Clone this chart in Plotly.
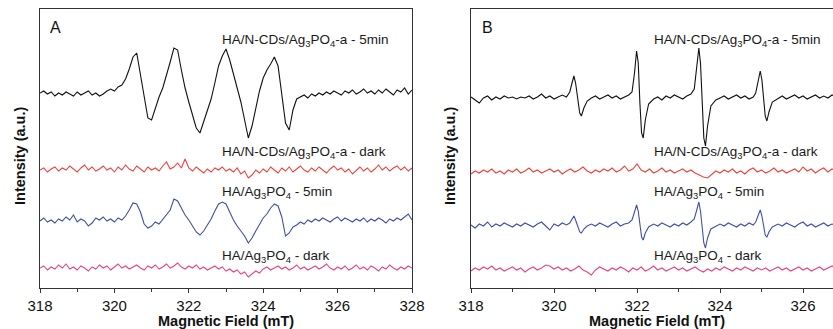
import numpy as np
import plotly.graph_objects as go

# ---------------- Panel A data (Magnetic field, mT) ----------------
field_A = np.round(np.arange(318.0, 328.0001, 0.1), 2)

A_cds_5min = [195, 197, 194, 196, 192, 195, 193, 196, 194, 192,
              196, 193, 195, 197, 193, 195, 192, 194, 197, 199,
              197, 201, 203, 209, 219, 231, 235, 214, 190, 170,
              168, 180, 191, 200, 212, 226, 240, 238, 218, 200,
              186, 172, 160, 155, 166, 178, 189, 205, 222, 232,
              239, 228, 214, 200, 186, 168, 150, 162, 181, 197,
              210, 218, 224, 231, 222, 195, 165, 158, 178, 189,
              191, 193, 190, 194, 192, 195, 193, 196, 194, 197,
              195, 193, 197, 195, 198, 194, 196, 199, 195, 197,
              194, 198, 195, 199, 196, 193, 198, 196, 200, 194, 198]

A_cds_dark = [118, 120, 116, 119, 121, 117, 120, 118, 122, 119,
              116, 120, 123, 118, 121, 117, 119, 122, 118, 120,
              116, 121, 118, 123, 119, 117, 122, 119, 116, 121,
              118, 120, 117, 122, 126, 119, 121, 125, 120, 129,
              120, 117, 121, 118, 115, 119, 116, 120, 118, 121,
              117, 119, 116, 120, 114, 117, 110, 113, 118, 115,
              119, 116, 121, 118, 115, 120, 117, 121, 116, 119,
              122, 118, 116, 120, 117, 121, 118, 115, 119, 122,
              118, 120, 116, 119, 114, 118, 121, 117, 120, 116,
              119, 123, 118, 121, 117, 120, 122, 118, 121, 117, 120]

A_ag_5min = [67, 70, 66, 68, 65, 69, 67, 71, 68, 73,
             66, 69, 67, 62, 65, 70, 68, 71, 67, 69,
             66, 70, 68, 72, 78, 85, 84, 76, 64, 60,
             62, 66, 64, 69, 73, 78, 89, 87, 80, 73,
             68, 62, 56, 53, 57, 63, 69, 77, 84, 86,
             84, 76, 68, 62, 57, 52, 45, 50, 57, 64,
             70, 74, 80, 84, 82, 71, 52, 55, 61, 63,
             66, 64, 68, 66, 69, 67, 70, 68, 66, 69,
             71, 67, 70, 68, 66, 69, 67, 70, 66, 69,
             67, 70, 68, 65, 69, 67, 70, 68, 71, 74, 68]

A_ag_dark = [20, 22, 18, 21, 19, 23, 20, 24, 19, 21,
             18, 22, 20, 17, 21, 19, 23, 20, 22, 18,
             21, 24, 20, 22, 19, 21, 23, 20, 18, 22,
             20, 23, 19, 21, 24, 20, 22, 25, 21, 19,
             22, 20, 23, 19, 21, 18, 20, 22, 19, 21,
             17, 19, 16, 18, 14, 16, 11, 14, 17, 15,
             19, 21, 18, 20, 22, 19, 21, 18, 20, 23,
             19, 21, 18, 20, 22, 19, 21, 24, 20, 18,
             21, 19, 22, 18, 20, 23, 19, 21, 18, 22,
             20, 17, 21, 19, 23, 20, 18, 21, 19, 22, 20]

# ---------------- Panel B data ----------------
field_B_dark = np.round(np.arange(318.0, 327.0001, 0.1), 2)

B_cds_dark = [114, 117, 115, 118, 116, 119, 115, 117, 114, 118,
              116, 119, 115, 117, 120, 116, 118, 115, 117, 119,
              116, 118, 114, 117, 119, 116, 118, 121, 117, 115,
              118, 116, 119, 117, 120, 116, 118, 122, 117, 119,
              124, 118, 116, 119, 115, 117, 120, 116, 118, 115,
              117, 119, 116, 118, 115, 113, 111, 110, 114, 117,
              115, 118, 116, 119, 115, 117, 114, 118, 120, 116,
              118, 115, 117, 120, 116, 118, 115, 117, 119, 116,
              121, 117, 119, 115, 118, 120, 116, 119, 117, 120, 118]

B_ag_dark = [17, 20, 18, 21, 19, 22, 18, 20, 17, 19,
             21, 18, 20, 16, 19, 21, 18, 20, 23, 22,
             19, 21, 18, 20, 17, 19, 22, 18, 16, 13,
             18, 21, 19, 17, 20, 18, 21, 19, 16, 20,
             18, 21, 17, 19, 22, 18, 20, 17, 19, 21,
             18, 20, 17, 19, 21, 18, 16, 19, 17, 20,
             18, 21, 19, 17, 20, 18, 21, 19, 17, 20,
             18, 20, 17, 19, 21, 18, 20, 17, 19, 21,
             18, 20, 17, 19, 21, 18, 20, 22, 19, 21, 20]

field_B_5min = [318.0, 318.1, 318.2, 318.3, 318.4, 318.5, 318.6, 318.7, 318.8, 318.9,
                319.0, 319.1, 319.2, 319.3, 319.4, 319.5, 319.6, 319.7, 319.8, 319.9,
                320.0, 320.1, 320.2, 320.3,
                320.38, 320.44, 320.48, 320.52, 320.57, 320.62, 320.66, 320.72, 320.8,
                320.9, 321.0, 321.1, 321.2, 321.3, 321.4, 321.5, 321.6, 321.7, 321.8,
                321.88, 321.94, 321.99, 322.03, 322.07, 322.11, 322.15, 322.2, 322.28,
                322.4, 322.5, 322.6, 322.7, 322.8, 322.9, 323.0, 323.1, 323.2, 323.3,
                323.38, 323.44, 323.49, 323.53, 323.57, 323.61, 323.65, 323.7, 323.78,
                323.9, 324.0, 324.1, 324.2, 324.3, 324.4, 324.5, 324.6, 324.7, 324.8,
                324.86, 324.92, 324.97, 325.01, 325.05, 325.09, 325.13, 325.18, 325.26,
                325.4, 325.5, 325.6, 325.7, 325.8, 325.9, 326.0, 326.1, 326.2, 326.3,
                326.4, 326.5, 326.6, 326.7, 326.8, 326.9, 327.0]

B_cds_5min = [191, 188, 185, 190, 192, 188, 191, 189, 192, 190,
              191, 189, 191, 190, 192, 189, 191, 194, 190, 192,
              189, 191, 193, 191,
              196, 206, 212, 205, 188, 175, 172, 180, 187,
              190, 192, 189, 191, 193, 190, 192, 189, 191, 193,
              196, 215, 237, 225, 185, 155, 150, 168, 184,
              189, 191, 188, 192, 190, 193, 191, 189, 192, 194,
              199, 220, 240, 225, 180, 150, 142, 162, 182,
              188, 190, 192, 189, 191, 193, 190, 192, 189, 191,
              195, 208, 217, 208, 188, 172, 167, 176, 186,
              190, 192, 189, 191, 193, 190, 192, 189, 191, 193,
              190, 192, 190, 193, 191, 192, 190]

B_ag_5min = [63, 60, 64, 62, 66, 61, 64, 62, 65, 63,
             61, 64, 62, 65, 63, 61, 64, 66, 62, 58,
             64, 62, 65, 63,
             65, 69, 72, 68, 61, 56, 55, 59, 62,
             64, 62, 65, 63, 61, 64, 66, 62, 64, 65,
             68, 76, 83, 77, 62, 51, 48, 55, 61,
             64, 62, 65, 63, 61, 64, 62, 65, 63, 66,
             69, 78, 86, 77, 58, 45, 40, 50, 59,
             62, 64, 62, 65, 63, 61, 64, 62, 65, 63,
             66, 73, 78, 72, 61, 53, 51, 56, 61,
             64, 62, 65, 63, 61, 64, 66, 62, 64, 61,
             63, 65, 62, 64, 63, 61, 64]

x_ticks = [318, 320, 322, 324, 326, 328]
labels_text = ["HA/N-CDs/Ag<sub>3</sub>PO<sub>4</sub>-a - 5min",
               "HA/N-CDs/Ag<sub>3</sub>PO<sub>4</sub>-a - dark",
               "HA/Ag<sub>3</sub>PO<sub>4</sub> - 5min",
               "HA/Ag<sub>3</sub>PO<sub>4</sub> - dark"]

C_BLACK = "#111111"
C_RED = "#f0413d"
C_BLUE = "#3f4fa6"
C_PINK = "#e9457c"

fig = go.Figure()
lw = 1.1
for xs, ys, c in [(field_A, A_cds_5min, C_BLACK), (field_A, A_cds_dark, C_RED),
                  (field_A, A_ag_5min, C_BLUE), (field_A, A_ag_dark, C_PINK)]:
    fig.add_trace(go.Scatter(x=xs, y=ys, mode="lines", line=dict(color=c, width=lw),
                             xaxis="x", yaxis="y", showlegend=False, hoverinfo="skip"))
for xs, ys, c in [(field_B_5min, B_cds_5min, C_BLACK), (field_B_dark, B_cds_dark, C_RED),
                  (field_B_5min, B_ag_5min, C_BLUE), (field_B_dark, B_ag_dark, C_PINK)]:
    fig.add_trace(go.Scatter(x=xs, y=ys, mode="lines", line=dict(color=c, width=lw),
                             xaxis="x2", yaxis="y2", showlegend=False, hoverinfo="skip"))

W, H = 833, 329
AX = "#333333"
tickfont = dict(family="Arial, Liberation Sans, sans-serif", size=15, color="#111111")
xcommon = dict(tickvals=x_ticks, ticks="outside", ticklen=4, tickwidth=1.3, tickcolor=AX,
               showline=True, linecolor=AX, linewidth=1.3, showgrid=False, zeroline=False,
               tickfont=tickfont, mirror=True, automargin=False,
               minor=dict(dtick=1, tick0=318, ticks="outside", ticklen=3, tickwidth=1.2, tickcolor=AX,
                          showgrid=False))
ycommon = dict(range=[0, 279], showticklabels=False, ticks="", showgrid=False, zeroline=False,
               showline=True, linecolor=AX, linewidth=1.3, automargin=False)

fig.update_layout(
    template="none",
    width=W, height=H,
    margin=dict(l=0, r=0, t=9, b=41, pad=0, autoexpand=False),
    paper_bgcolor="white", plot_bgcolor="white",
    xaxis=dict(domain=[40 / W, 412 / W], range=[318, 328], anchor="y", **xcommon),
    yaxis=dict(domain=[0, 1], anchor="x", mirror=True, **ycommon),
    xaxis2=dict(domain=[471 / W, 1.0], range=[318, 318 + (W - 471) / 41.5], anchor="y2", **xcommon),
    yaxis2=dict(domain=[0, 1], anchor="x2", mirror=False, **ycommon),
)

def py(ypix):
    return (288 - ypix) / 279

titlefont = dict(family="Arial, Liberation Sans, sans-serif", size=14.5, color="#111111")
lblfont = dict(family="Arial, Liberation Sans, sans-serif", size=13.5, color="#1a1a1a")
ann = []
for xc in [20, 450]:
    ann.append(dict(text="<b>Intensity (a.u.)</b>", x=xc / W, y=py(156), xref="paper", yref="paper",
                    textangle=-90, showarrow=False, font=titlefont, xanchor="center", yanchor="middle"))
for xc in [226, 657]:
    ann.append(dict(text="<b>Magnetic Field (mT)</b>", x=xc / W, y=py(321.3), xref="paper", yref="paper",
                    showarrow=False, font=titlefont, xanchor="center", yanchor="middle"))
for txt, xc in [("A", 55), ("B", 488)]:
    ann.append(dict(text=txt, x=xc / W, y=py(28), xref="paper", yref="paper", showarrow=False,
                    font=dict(family="Arial, Liberation Sans, sans-serif", size=16, color="#111111"),
                    xanchor="center", yanchor="middle"))
for xl in [220, 652]:
    for txt, yc in zip(labels_text, [41, 152, 192, 256]):
        ann.append(dict(text=txt, x=xl / W, y=py(yc), xref="paper", yref="paper", showarrow=False,
                        font=lblfont, xanchor="left", yanchor="middle"))
fig.update_layout(annotations=ann)

fig.write_html("out.html", config={"displayModeBar": False},
               post_script="document.body.style.margin='0';document.body.style.overflow='hidden';")
